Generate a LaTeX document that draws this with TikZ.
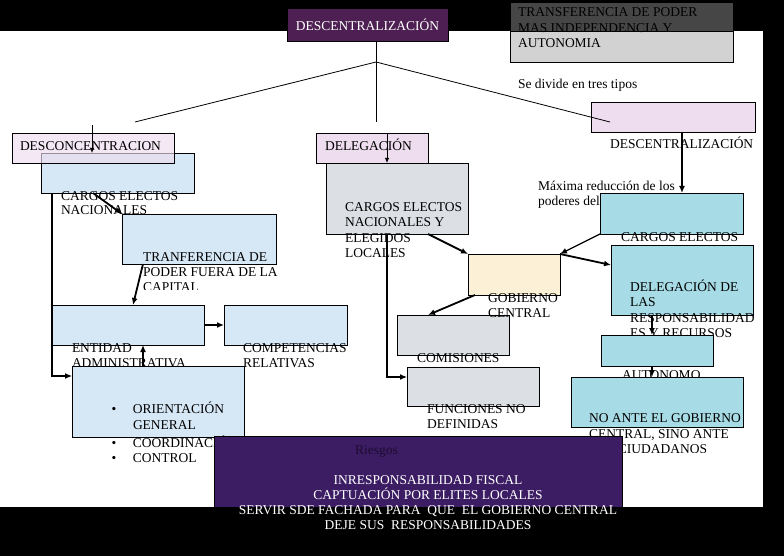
\documentclass[tikz,border=0pt]{standalone}
\usepackage{fontspec}
\setmainfont{Liberation Serif}
\usetikzlibrary{arrows.meta,calc}
\definecolor{plum}{HTML}{4E1F52}
\definecolor{hatchpink}{HTML}{EEDDEE}
\definecolor{lightblue}{HTML}{D6E7F6}
\definecolor{marble}{HTML}{DCDFE3}
\definecolor{cream}{HTML}{FCF1D6}
\definecolor{water}{HTML}{A7DCE6}
\definecolor{riskpurple}{HTML}{3C1D64}
\definecolor{riskdark}{HTML}{1C0C30}
\definecolor{notedark}{RGB}{70,70,70}
\definecolor{notelight}{RGB}{210,210,210}
\newcommand\mylines[2][15pt]{\vtop{\baselineskip=#1\halign{##\hfil\cr#2\crcr}}}
\newcommand\mycenter[2][15pt]{\vtop{\baselineskip=#1\halign{\hfil##\hfil\cr#2\crcr}}}
\newcommand\orientlist{\vtop{\baselineskip=15.5pt\halign{\hbox to 21.5pt{##\hfil}&##\hfil\cr\textbullet&ORIENTACIÓN\cr&GENERAL\cr\noalign{\vskip2.5pt}\textbullet&COORDINACIÓN\cr\textbullet&CONTROL\cr}}}
\begin{document}
\begin{tikzpicture}[x=1pt,y=-1pt,
  box/.style={draw=black,line width=0.8pt,inner sep=0pt,outer sep=0pt,anchor=north west},
  txt/.style={inner sep=0pt,outer sep=0pt,anchor=base west,font=\fontsize{13.5}{15}\selectfont},
  thinline/.style={line width=0.8pt},
  arr/.style={line width=1.8pt,-{Latex[length=7pt,width=6pt]}},
  medarr/.style={line width=1.2pt,-{Latex[length=7pt,width=6pt]}},
  tharr/.style={line width=0.9pt,-{Latex[length=5pt,width=4.5pt]}}]
\useasboundingbox (0,0) rectangle (784,556);
\fill[black] (0,0) rectangle (784,556);
\fill[white] (0,31) rectangle (763,507);
% title
\node[box,fill=plum,minimum width=161pt,minimum height=33pt,text=white,font=\fontsize{13.5}{15}\selectfont] (title) at (287,8) {DESCENTRALIZACIÓN};
% top right note: dark part on the black band, light part below
\node[box,fill=notelight,minimum width=223pt,minimum height=60pt] (topr) at (510,2) {};
\node[box,fill=notedark,minimum width=223pt,minimum height=29pt] (toprdark) at (510,2) {};
\node[txt] (toprt) at (518,17) {\mylines[15.5pt]{TRANSFERENCIA DE PODER\cr MAS INDEPENDENCIA Y\cr AUTONOMIA}};
\node[txt] (divide) at (518,88.5) {Se divide en tres tipos};
% right pink
\node[box,fill=hatchpink,minimum width=164pt,minimum height=30pt] (rpink) at (591,102) {};
\node[txt] (rpinkt) at (610,148.5) {DESCENTRALIZACIÓN};
% left column
\node[box,fill=lightblue,minimum width=153pt,minimum height=40pt] (cen) at (41,153) {};
\node[box,fill=hatchpink,fill opacity=0.65,minimum width=162pt,minimum height=30pt] (desconc) at (12,133) {};
\node[txt] (desconct) at (20,150.5) {DESCONCENTRACION};
\node[txt] (cent) at (61,200.5) {\mylines[14pt]{CARGOS ELECTOS\cr NACIONALES}};
\node[box,fill=lightblue,minimum width=154pt,minimum height=50pt] (tran) at (122,214) {};
\begin{scope}
\clip (100,230) rectangle (300,289);
\node[txt] (trant) at (143,261.5) {\mylines{TRANFERENCIA DE\cr PODER FUERA DE LA\cr CAPITAL}};
\end{scope}
\node[box,fill=lightblue,minimum width=152pt,minimum height=40pt] (ent) at (52,305) {};
\node[txt] (entt) at (72,352.5) {\mylines{ENTIDAD\cr ADMINISTRATIVA}};
\node[box,fill=lightblue,minimum width=123pt,minimum height=40pt] (comp) at (224,305) {};
\node[txt] (compt) at (243,352.5) {\mylines{COMPETENCIAS\cr RELATIVAS}};
\node[box,fill=lightblue,minimum width=172pt,minimum height=71pt] (orient) at (72,366) {};
\node[txt] (orientt) at (111.5,413.5) {\orientlist};
% middle column
\node[box,fill=hatchpink,minimum width=112pt,minimum height=30pt] (deleg) at (316,133) {};
\node[txt] (delegt) at (325,150.5) {DELEGACIÓN};
\node[box,fill=marble,minimum width=142pt,minimum height=71pt] (cenl) at (326,163) {};
\node[txt] (cenlt) at (345,211.5) {\mylines[15.3pt]{CARGOS ELECTOS\cr NACIONALES Y\cr ELEGIDOS\cr LOCALES}};
\node[box,fill=cream,minimum width=92pt,minimum height=41pt] (gob) at (468,254) {};
\node[box,fill=marble,minimum width=112pt,minimum height=40pt] (com) at (397,315) {};
\node[txt] (gobt) at (488,302.5) {\mylines{GOBIERNO\cr CENTRAL}};
\node[txt] (comt) at (417,362.5) {COMISIONES};
\node[box,fill=marble,minimum width=132pt,minimum height=39pt] (fun) at (407,367) {};
\node[txt] (funt) at (427,413.5) {\mylines{FUNCIONES NO\cr DEFINIDAS}};
% right column
\node[txt] (maxt) at (538,190.5) {\mylines[14.5pt]{Máxima reducción de los\cr poderes del}};
\node[box,fill=water,minimum width=143pt,minimum height=41pt] (rcar) at (600,193) {};
\node[txt] (rcart) at (621,241.5) {CARGOS ELECTOS};
\node[box,fill=water,minimum width=142pt,minimum height=70pt] (rdel) at (611,245) {};
\node[txt] (rdelt) at (630,291.5) {\mylines[15.3pt]{DELEGACIÓN DE\cr LAS\cr RESPONSABILIDAD\cr ES Y RECURSOS}};
\node[box,fill=water,minimum width=112pt,minimum height=31pt] (aut) at (601,335) {};
\node[txt] (autt) at (622,379.5) {AUTONOMO};
\node[box,fill=water,minimum width=172pt,minimum height=50pt] (noante) at (571,377) {};
\begin{scope}
\clip (560,400) rectangle (770,452);
\node[txt] (noantet) at (589,422.5) {\mylines[15.5pt]{NO ANTE EL GOBIERNO\cr CENTRAL, SINO ANTE\cr LOS CIUDADANOS}};
\end{scope}
% connectors
\coordinate (J) at (376,62);
\coordinate (Lend) at (135,122);
\coordinate (Mend) at (376,122);
\coordinate (Rend) at (610,122);
\draw[thinline] (title.south -| J) -- (J);
\draw[thinline] (J) -- (Lend);
\draw[thinline] (J) -- (Mend);
\draw[thinline] (J) -- (Rend);
\draw[tharr] ([xshift=80pt,yshift=8pt]desconc.north west) -- ([xshift=51pt]cen.north west);
\draw[tharr] ([xshift=71pt]deleg.north west) -- ([xshift=61pt]cenl.north west);
\draw[arr] ([xshift=52pt]cen.south west) -- (tran.north west);
\draw[arr] ([xshift=21pt]tran.south west) -- ([xshift=81pt]ent.north west);
\draw[medarr] (cen.south -| ent.west) |- ([yshift=-10pt]orient.north west);
\draw[arr] (ent.east) -- (comp.west);
\draw[arr] ([xshift=71pt]orient.north west) -- ([xshift=91pt]ent.south west);
\draw[arr] ([xshift=-40pt]cenl.south east) -- (gob.north west);
\draw[arr] ([xshift=7pt]gob.south west) -- ([xshift=31pt]com.north west);
\draw[medarr] ([xshift=61pt]cenl.south west) |- ([yshift=-10pt]fun.north west);
\draw[arr] ([xshift=91pt]rpink.south west) -- ([xshift=82pt]rcar.north west);
\draw[medarr] (rcar.south west) -- (gob.north east);
\draw[arr] (gob.north east) -- ([yshift=-20pt]rdel.north west);
\draw[arr] ([xshift=41pt]rdel.south west) -- ([xshift=51pt]aut.north west);
\draw[arr] ([xshift=51pt]aut.south west) -- ([xshift=81pt]noante.north west);
% risks
\node[box,fill=riskpurple,minimum width=408pt,minimum height=71pt] (risk) at (214,436) {};
\node[txt,text=riskdark] (riskt) at (355,454) {Riesgos};
\node[txt,anchor=base,text=white] (riskl) at (428,484.5) {\mycenter{INRESPONSABILIDAD FISCAL\cr CAPTUACIÓN POR ELITES LOCALES\cr SERVIR SDE FACHADA PARA\ \ QUE\ \ EL GOBIERNO CENTRAL\cr DEJE SUS\ \ RESPONSABILIDADES}};
\end{tikzpicture}
\end{document}
